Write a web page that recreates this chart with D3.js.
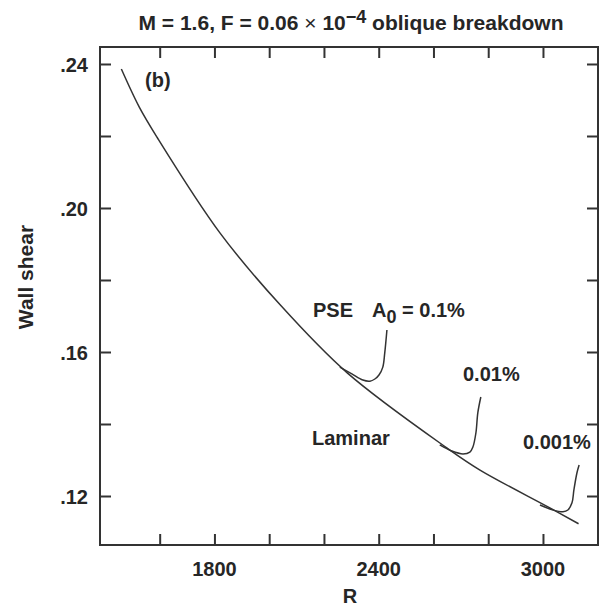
<!DOCTYPE html>
<html lang="en">
<head>
<meta charset="utf-8">
<title>Wall shear vs R</title>
<script src="https://cdn.jsdelivr.net/npm/d3@7"></script>
<style>
  body { margin: 0; background: #fff; }
  text { font-family: "Liberation Sans", Arial, Helvetica, sans-serif; font-weight: bold; fill: #262626; }
</style>
</head>
<body>
<div id="wrapper"></div>
<script>
// laminar curve
const laminarR = [1460, 1525, 1590, 1820, 2040, 2285, 2650, 2770, 3025, 3130]
const laminarW = [0.2386, 0.2281, 0.2197, 0.1931, 0.1731, 0.1542, 0.1333, 0.1272, 0.1167, 0.1123]

// PSE branches, A0 = 0.1%, 0.01%, 0.001%
const pseR_01 = [2258, 2302, 2342, 2368, 2386, 2401, 2415, 2422, 2430]
const pseW_01 = [0.1558, 0.1539, 0.1522, 0.1519, 0.1525, 0.1536, 0.1558, 0.1597, 0.1661]
const pseR_001 = [2623, 2667, 2708, 2733, 2744, 2755, 2762, 2773]
const pseW_001 = [0.1342, 0.1325, 0.1317, 0.1322, 0.1336, 0.1375, 0.1431, 0.1475]
const pseR_0001 = [2989, 3037, 3073, 3091, 3106, 3113, 3124, 3132]
const pseW_0001 = [0.1175, 0.1161, 0.1156, 0.1161, 0.1181, 0.1217, 0.1264, 0.1286]

const xTicks = [1600, 1800, 2000, 2200, 2400, 2600, 2800, 3000]
const xTickLabels = [1800, 2400, 3000]
const yTicks = [0.12, 0.14, 0.16, 0.18, 0.20, 0.22, 0.24]
const yTickLabels = [0.12, 0.16, 0.20, 0.24]

const width = 601
const height = 607
const margin = {top: 47, right: 3, bottom: 62, left: 100}

const svg = d3.select("#wrapper").append("svg")
    .attr("width", width)
    .attr("height", height)

const x = d3.scaleLinear()
    .domain([1382, 3201])
    .range([margin.left, width - margin.right])
const y = d3.scaleLinear()
    .domain([0.10639, 0.24472])
    .range([height - margin.bottom, margin.top])

const ink = "#333"
const tickLen = 11

// frame
svg.append("rect")
    .attr("x", x.range()[0])
    .attr("y", y.range()[1])
    .attr("width", x.range()[1] - x.range()[0])
    .attr("height", y.range()[0] - y.range()[1])
    .attr("fill", "none")
    .attr("stroke", ink)
    .attr("stroke-width", 2)

// inward ticks via axes
const fmtY = d => d3.format(".2f")(d).replace(/^0/, "")

const bottomAxis = svg.append("g")
    .attr("transform", `translate(0,${y.range()[0]})`)
    .call(d3.axisTop(x).tickValues(xTicks).tickSize(tickLen).tickFormat(""))
const topAxis = svg.append("g")
    .attr("transform", `translate(0,${y.range()[1]})`)
    .call(d3.axisBottom(x).tickValues(xTicks).tickSize(tickLen).tickFormat(""))
const leftAxis = svg.append("g")
    .attr("transform", `translate(${x.range()[0]},0)`)
    .call(d3.axisRight(y).tickValues(yTicks).tickSize(tickLen).tickFormat(""))
const rightAxis = svg.append("g")
    .attr("transform", `translate(${x.range()[1]},0)`)
    .call(d3.axisLeft(y).tickValues(yTicks).tickSize(tickLen).tickFormat(""))

;[bottomAxis, topAxis, leftAxis, rightAxis].forEach(g => {
    g.select(".domain").remove()
    g.selectAll(".tick line").attr("stroke", ink).attr("stroke-width", 2)
})

// tick labels
svg.append("g").selectAll("text")
    .data(xTickLabels)
    .join("text")
    .attr("x", d => x(d))
    .attr("y", 576)
    .attr("text-anchor", "middle")
    .style("font-size", "20px")
    .text(d => d)

svg.append("g").selectAll("text")
    .data(yTickLabels)
    .join("text")
    .attr("x", 88)
    .attr("y", d => y(d) + 8)
    .attr("text-anchor", "end")
    .style("font-size", "20px")
    .text(d => fmtY(d))

// axis titles
svg.append("text")
    .attr("x", 350)
    .attr("y", 603)
    .attr("text-anchor", "middle")
    .style("font-size", "20px")
    .text("R")

svg.append("text")
    .attr("transform", "translate(33,277) rotate(-90)")
    .attr("text-anchor", "middle")
    .style("font-size", "21px")
    .text("Wall shear")

// title
const title = svg.append("text")
    .attr("x", 351)
    .attr("y", 30)
    .attr("text-anchor", "middle")
    .style("font-size", "21px")
title.append("tspan").text("M = 1.6, F = 0.06 ")
title.append("tspan").style("font-weight", "normal").text("×")
title.append("tspan").text(" 10")
title.append("tspan").attr("dy", -7).style("font-size", "18px").text("−4")
title.append("tspan").attr("dy", 7).text(" oblique breakdown")

// curves
const line = d3.line()
    .x(d => x(d[0]))
    .y(d => y(d[1]))
    .curve(d3.curveCatmullRom.alpha(0.5))

const series = [
    d3.zip(laminarR, laminarW),
    d3.zip(pseR_01, pseW_01),
    d3.zip(pseR_001, pseW_001),
    d3.zip(pseR_0001, pseW_0001)
]

svg.append("g").selectAll("path")
    .data(series)
    .join("path")
    .attr("d", line)
    .attr("fill", "none")
    .attr("stroke", "#333")
    .attr("stroke-width", 1.5)

// annotations
svg.append("text").attr("x", 145).attr("y", 87).style("font-size", "20px").text("(b)")
svg.append("text").attr("x", 313).attr("y", 317).style("font-size", "20px").text("PSE")

const a0 = svg.append("text").attr("x", 372).attr("y", 317).style("font-size", "20px")
a0.append("tspan").text("A")
a0.append("tspan").attr("dy", 6).style("font-size", "18px").text("0")
a0.append("tspan").attr("dy", -6).text(" = 0.1%")

svg.append("text").attr("x", 463).attr("y", 381).style("font-size", "20px").text("0.01%")
svg.append("text").attr("x", 312).attr("y", 445).style("font-size", "20px").text("Laminar")
svg.append("text").attr("x", 523).attr("y", 449).style("font-size", "20px").text("0.001%")
</script>
</body>
</html>
